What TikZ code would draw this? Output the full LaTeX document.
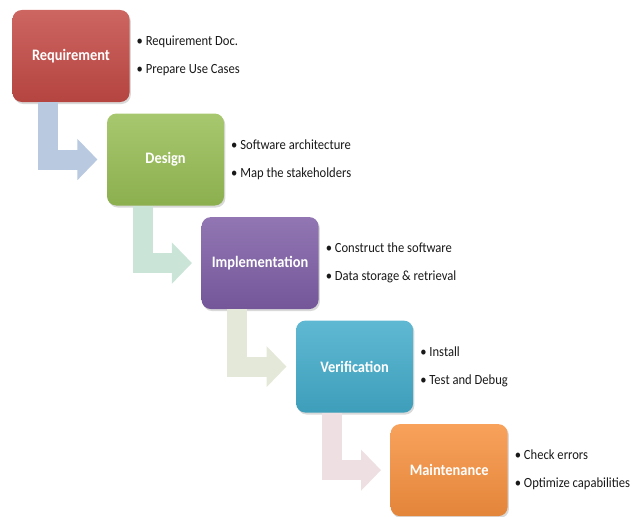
\documentclass[tikz,border=0pt]{standalone}
\usepackage{fontspec}
\setmainfont{Carlito}[FakeStretch=0.9]
\usetikzlibrary{calc}
\usetikzlibrary{positioning}
\usetikzlibrary{arrows.meta}
\usetikzlibrary{shadows}

\definecolor{reqred}{HTML}{C44A45}
\definecolor{desgreen}{HTML}{98BE55}
\definecolor{impurple}{HTML}{7E5EA6}
\definecolor{vercyan}{HTML}{43ACCB}
\definecolor{maiorange}{HTML}{F7913F}
\definecolor{arrowblue}{HTML}{B9C9E0}
\definecolor{arrowmint}{HTML}{CBE4D8}
\definecolor{arrowsand}{HTML}{E4E8D8}
\definecolor{arrowrose}{HTML}{EEE0E2}

\begin{document}
\begin{tikzpicture}[
		stage/.style={
			rectangle,
			rounded corners=7pt,
			minimum width=87.75pt,
			minimum height=69pt,
			text=white,
			font=\bfseries\fontsize{12}{14}\selectfont,
			drop shadow={opacity=0.3, shadow xshift=1pt, shadow yshift=-1.5pt}},
		bullets/.style={
			align=left,
			inner sep=0pt,
			right=5pt of #1,
			text=black!90,
			font=\fontsize{10.5}{21}\selectfont},
		elbow/.style={
			line width=15pt,
			shorten >=7pt,
			-{Triangle[length=15pt,width=30pt]}},
		]

		\useasboundingbox (0,0) rectangle (476.25pt,-387.75pt);

		%Requirement
		\node (req)[stage, top color=reqred!85!white, bottom color=reqred!92!black] at (53.25pt,-42pt) {Requirement};
		\node (reqtxt)[bullets=req] {• Requirement Doc.\\• Prepare Use Cases};

		%Design
		\node (des)[stage, top color=desgreen!85!white, bottom color=desgreen!92!black, below right=8.25pt and -17.25pt of req] {Design};
		\node (destxt)[bullets=des] {• Software architecture\\• Map the stakeholders};

		%Implementation
		\node (imp)[stage, top color=impurple!85!white, bottom color=impurple!92!black, below right=8.25pt and -17.25pt of des] {Implementation};
		\node (imptxt)[bullets=imp] {• Construct the software\\• Data storage \& retrieval};

		%Verification
		\node (ver)[stage, top color=vercyan!85!white, bottom color=vercyan!92!black, below right=8.25pt and -17.25pt of imp] {Verification};
		\node (vertxt)[bullets=ver] {• Install\\• Test and Debug};

		%Maintenance
		\node (mai)[stage, top color=maiorange!85!white, bottom color=maiorange!92!black, below right=8.25pt and -17.25pt of ver] {Maintenance};
		\node (maitxt)[bullets=mai] {• Check errors\\• Optimize capabilities};

		%Elbow arrows
		\foreach \from/\to/\col in {req/des/arrowblue, des/imp/arrowmint, imp/ver/arrowsand, ver/mai/arrowrose}{
			\draw[elbow, draw=\col] ($(\from.south west)+(27pt,0)$) |- (\to.west);
		}

	\end{tikzpicture}
\end{document}
